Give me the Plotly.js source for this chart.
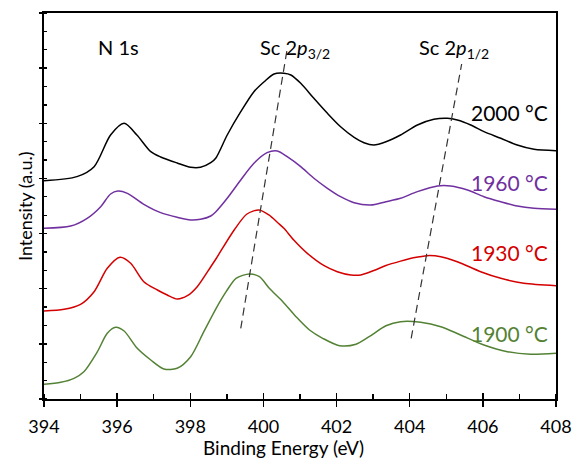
<!DOCTYPE html>
<html>
<head>
<meta charset="utf-8">
<script src="https://cdn.plot.ly/plotly-3.0.1.min.js"></script>
<style>html,body{margin:0;padding:0;background:#fff;}#chart{width:579px;height:459px;}</style>
</head>
<body>
<div id="chart"></div>
<script>
// Binding energy (eV) and offset intensity (a.u.) for each spectrum
const e2000 = [394.0,394.9,395.37,395.82,396.19,396.54,396.92,397.19,397.64,398.01,398.28,398.56,398.7,399.01,399.38,399.74,400.02,400.29,400.56,400.75,401.02,401.38,401.75,402.11,402.48,402.75,403.02,403.35,403.75,404.21,404.66,405.03,405.3,405.67,406.03,406.49,406.94,407.4,408.0];
const i2000 = [3.959,4.032,4.213,4.788,5.000,4.788,4.485,4.389,4.280,4.202,4.202,4.285,4.371,4.788,5.210,5.573,5.754,5.894,5.907,5.876,5.725,5.453,5.181,4.938,4.746,4.648,4.606,4.666,4.788,4.969,5.073,5.091,5.060,4.969,4.848,4.728,4.606,4.528,4.503];

const e1960 = [394.0,394.73,395.18,395.55,395.82,396.02,396.28,396.73,397.19,397.64,398.01,398.28,398.56,398.7,399.01,399.38,399.74,400.1,400.38,400.65,401.02,401.38,401.75,402.11,402.48,402.93,403.35,403.75,404.21,404.76,405.12,405.58,406.03,406.49,406.94,407.4,408.0];
const i1960 = [3.096,3.137,3.277,3.488,3.718,3.772,3.730,3.531,3.379,3.295,3.246,3.259,3.319,3.397,3.640,3.972,4.275,4.467,4.498,4.394,4.213,4.003,3.821,3.669,3.560,3.518,3.578,3.640,3.760,3.863,3.863,3.790,3.669,3.578,3.500,3.458,3.440];

const e1930 = [394.0,394.55,395.0,395.37,395.73,396.08,396.37,396.73,397.1,397.37,397.64,397.92,398.19,398.56,398.7,399.2,399.55,399.88,400.15,400.4,400.56,400.83,401.2,401.66,402.02,402.39,402.66,403.02,403.35,403.75,404.1,404.48,404.85,405.3,405.94,406.49,407.12,408.0];
const i1930 = [1.596,1.627,1.717,1.946,2.370,2.570,2.461,2.127,1.977,1.886,1.814,1.873,2.037,2.399,2.539,3.065,3.355,3.428,3.337,3.192,3.096,2.884,2.642,2.417,2.309,2.249,2.249,2.330,2.420,2.500,2.560,2.600,2.581,2.490,2.309,2.189,2.098,2.055];

const e1900 = [394.0,394.46,394.82,395.09,395.46,395.73,395.96,396.19,396.55,396.92,397.28,397.64,398.01,398.37,398.7,398.98,399.25,399.62,399.89,400.16,400.53,400.89,401.26,401.62,402.08,402.53,402.89,403.35,403.75,404.3,404.85,405.39,406.03,406.67,407.3,408.0];
const i1900 = [0.267,0.303,0.375,0.495,0.858,1.192,1.300,1.233,0.919,0.707,0.544,0.557,0.767,1.221,1.636,1.946,2.189,2.267,2.218,2.008,1.765,1.493,1.251,1.101,0.967,0.992,1.130,1.328,1.402,1.391,1.311,1.161,0.979,0.858,0.811,0.829];

// Peak-shift guide lines
const guide32X = [399.38, 400.645];
const guide32Y = [1.28, 6.33];
const guide12X = [404.04, 405.42];
const guide12Y = [1.10, 6.075];

const seriesNames = ['2000 °C','1960 °C','1930 °C','1900 °C'];
const seriesColors = ['#000000','#7030A0','#D40000','#548235'];
const labelY = [5.187, 3.926, 2.657, 1.188];

const xTicks = [394,396,398,400,402,404,406,408];

const FONT = 'Lato, "Open Sans", sans-serif';

const energies = [e2000, e1960, e1930, e1900];
const intens = [i2000, i1960, i1930, i1900];

const traces = energies.map((e, k) => ({
  x: e, y: intens[k], type: 'scatter', mode: 'lines',
  name: seriesNames[k], line: {color: seriesColors[k], width: 1.5, shape: 'spline', smoothing: 0.8},
  hoverinfo: 'skip'
}));
[[guide32X, guide32Y],[guide12X, guide12Y]].forEach(g => traces.push({
  x: g[0], y: g[1], type: 'scatter', mode: 'lines',
  line: {color: '#333333', width: 1.2, dash: '8px,5px'}, hoverinfo: 'skip'
}));
// invisible trace to carry the overlay axes
traces.push({x: [394], y: [0], xaxis: 'x2', yaxis: 'y2', mode: 'markers', marker: {opacity: 0}, hoverinfo: 'skip'});

const annotations = seriesNames.map((n, k) => ({
  x: 407.84, y: labelY[k], xref: 'x', yref: 'y', text: n, showarrow: false,
  xanchor: 'right', yanchor: 'middle', font: {family: FONT, size: 21, color: seriesColors[k]}
}));
annotations.push(
  {x: 396.05, y: 6.39, xref: 'x', yref: 'y', text: 'N 1s', showarrow: false, xanchor: 'center', yanchor: 'middle', font: {family: FONT, size: 20, color: '#000'}},
  {x: 400.86, y: 6.36, xref: 'x', yref: 'y', text: 'Sc 2<i>p</i><sub>3/2</sub>', showarrow: false, xanchor: 'center', yanchor: 'middle', font: {family: FONT, size: 20, color: '#000'}},
  {x: 405.2, y: 6.36, xref: 'x', yref: 'y', text: 'Sc 2<i>p</i><sub>1/2</sub>', showarrow: false, xanchor: 'center', yanchor: 'middle', font: {family: FONT, size: 20, color: '#000'}},
  {x: 283, y: 447, xref: 'paper', yref: 'paper', text: 'Binding Energy (eV)', showarrow: false, xanchor: 'center', yanchor: 'middle', font: {family: FONT, size: 19, color: '#000'}},
  {x: 25, y: 206, xref: 'paper', yref: 'paper', text: 'Intensity (a.u.)', textangle: -90, showarrow: false, xanchor: 'center', yanchor: 'middle', font: {family: FONT, size: 18, color: '#000'}}
);
// convert pixel positions of axis titles into paper coordinates
const L = 44, R = 23, T = 13, B = 60, W = 579, H = 459;
annotations.forEach(a => {
  if (a.xref === 'paper') {
    a.x = (a.x - L) / (W - L - R);
    a.y = (H - B - a.y) / (H - T - B);
  }
});

const layout = {
  width: W, height: H,
  margin: {l: L, r: R, t: T, b: B, pad: 0},
  paper_bgcolor: '#fff', plot_bgcolor: '#fff',
  showlegend: false,
  font: {family: FONT, color: '#000'},
  xaxis: {
    range: [394, 408], tickmode: 'array', tickvals: xTicks, ticktext: xTicks.map(String),
    ticks: 'outside', ticklen: 6, tickwidth: 1.5, tickcolor: '#000', ticklabelstandoff: 5,
    minor: {ticks: 'inside', dtick: 1, ticklen: 5, tickwidth: 1.3, tickcolor: '#000'},
    showline: true, linecolor: '#000', linewidth: 1.8, mirror: true,
    showgrid: false, zeroline: false,
    tickfont: {family: FONT, size: 18, color: '#000'}
  },
  yaxis: {
    range: [0, 7], dtick: 1, tick0: 0,
    ticks: 'outside', ticklen: 3, tickwidth: 1.5, tickcolor: '#000',
    minor: {ticks: 'inside', dtick: 1/3, ticklen: 3, tickwidth: 1.3, tickcolor: '#000'},
    showticklabels: false,
    showline: true, linecolor: '#000', linewidth: 1.8, mirror: true,
    showgrid: false, zeroline: false
  },
  xaxis2: {overlaying: 'x', range: [394, 408], tickmode: 'array', tickvals: xTicks, ticks: 'inside', ticklen: 6, tickwidth: 1.5, tickcolor: '#000', showticklabels: false, showgrid: false, zeroline: false, showline: false},
  yaxis2: {overlaying: 'y', range: [0, 7], dtick: 1, tick0: 0, ticks: 'inside', ticklen: 3, tickwidth: 1.5, tickcolor: '#000', showticklabels: false, showgrid: false, zeroline: false, showline: false},
  annotations: annotations
};

Plotly.newPlot('chart', traces, layout, {displayModeBar: false, staticPlot: true});
</script>
</body>
</html>
